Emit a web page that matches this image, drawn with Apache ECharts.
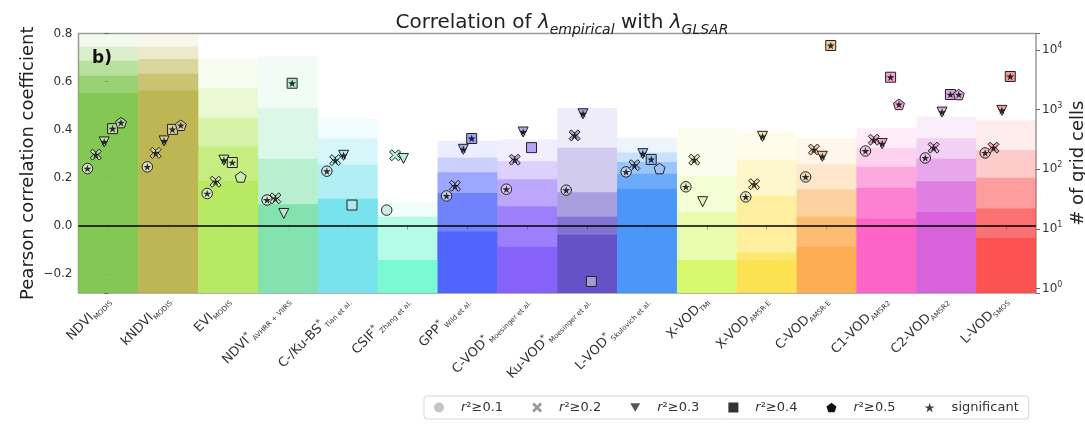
<!DOCTYPE html>
<html>
<head>
<meta charset="utf-8">
<script src="https://cdn.jsdelivr.net/npm/echarts@6/dist/echarts.min.js"></script>
<style>
  html, body { margin: 0; padding: 0; background: #fff; }
  #chart { width: 1085px; height: 426px; }
</style>
</head>
<body>
<div id="chart"></div>
<script>
// Vegetation / VOD products compared
const productNames   = ['NDVI', 'kNDVI', 'EVI', 'NDVI', 'C-/Ku-BS', 'CSIF', 'GPP', 'C-VOD', 'Ku-VOD', 'L-VOD',
                        'X-VOD', 'X-VOD', 'C-VOD', 'C1-VOD', 'C2-VOD', 'L-VOD'];
const productMarks   = ['', '', '', '*', '*', '*', '*', '*', '*', '*', '', '', '', '', '', ''];
const productSources = ['MODIS', 'MODIS', 'MODIS', 'AVHRR + VIIRS', 'Tian et al.', 'Zhang et al.', 'Wild et al.',
                        'Moesinger et al.', 'Moesinger et al.', 'Skulovich et al.', 'TMI', 'AMSR-E', 'AMSR-E',
                        'AMSR2', 'AMSR2', 'SMOS'];
const categories = productNames.map((n, i) => n + productMarks[i] + ' ' + productSources[i]);

const thresholdLabels = ['r²≥0.1', 'r²≥0.2', 'r²≥0.3', 'r²≥0.4', 'r²≥0.5'];

// Pearson r of lambda_empirical vs lambda_GLSAR, one array per r² threshold (null = no cells)
const corr01 = [0.238, 0.245, 0.134, 0.107, 0.227, 0.065, 0.124, 0.152, 0.148, 0.224, 0.162, 0.120, 0.203, 0.311, 0.282, 0.303];
const corr02 = [0.296, 0.303, 0.183, 0.114, 0.273, 0.293, 0.166, 0.275, 0.376, 0.252, 0.275, 0.173, 0.317, 0.358, 0.325, 0.325];
const corr03 = [0.349, 0.353, 0.273, 0.051, 0.293, 0.280, 0.318, 0.390, 0.466, 0.300, 0.100, 0.372, 0.289, 0.342, 0.473, 0.480];
const corr04 = [0.404, 0.401, 0.263, 0.593, 0.086, null, 0.363, 0.325, -0.232, 0.276, null, null, 0.750, 0.618, 0.546, 0.621];
const corr05 = [0.429, 0.418, 0.203, null, null, null, null, null, null, 0.238, null, null, null, 0.505, 0.546, null];

// significance flags (1 = significant)
const sig01 = [1, 1, 1, 1, 1, 0, 1, 1, 1, 1, 1, 1, 1, 1, 1, 1];
const sig02 = [1, 1, 1, 1, 1, 0, 1, 1, 1, 1, 1, 1, 1, 1, 1, 1];
const sig03 = [1, 1, 1, 0, 1, 0, 1, 1, 1, 1, 0, 1, 1, 1, 1, 1];
const sig04 = [1, 1, 1, 1, 0, 0, 1, 0, 0, 1, 0, 0, 1, 1, 1, 1];
const sig05 = [1, 1, 0, 0, 0, 0, 0, 0, 0, 0, 0, 0, 0, 1, 1, 0];

// number of grid cells passing each r² threshold
const cells01 = [25000, 25000, 7300, 7800, 710, 28, 300, 316, 1070, 337, 495, 436, 337, 495, 767, 660];
const cells02 = [11500, 11500, 2300, 1060, 330, 16, 158, 137, 230, 191, 77, 146, 121, 230, 331, 210];
const cells03 = [6600, 7070, 730, 150, 120, 16, 89, 68, 41, 133, 19, 36, 46, 110, 150, 72];
const cells04 = [3720, 4000, 240, 26, 32, 3, 40, 24, 16, 84, 3, 4, 16, 49, 63, 22];
const cells05 = [1910, 2100, 63, 26, 32, 3, 9, 5, 8, 47, 3, 3, 5, 15, 19, 7];

// ---- styling ----
const productColors = ['#7cc44a', '#b9b248', '#b4e85a', '#7ce0a8', '#70e0ec', '#72f8d0', '#445cfc', '#8058fa',
                       '#5c48c4', '#4090f8', '#d4f864', '#fce048', '#fca848', '#fc5cc4', '#d458d8', '#fc4848'];
const bandAlpha = [0.1, 0.2, 0.35, 0.5, 0.75];
const slotOffsets = [-0.35, -0.21, -0.07, 0.07, 0.21];
const legendGreys = ['#c4c4c4', '#9a9a9a', '#555555', '#333333', '#111111'];
const markerTint = [0.25, 0.45, 0.45, 0.5, 0.45];

const FONT = 'DejaVu Sans';
const xPath = 'path://M2,0L5,3L8,0L10,2L7,5L10,8L8,10L5,7L2,10L0,8L3,5L0,2Z';
const triDownPath = 'path://M0,0L10,0L5,8.66Z';
const pentPath = 'path://M9.51,0L19.02,6.91L15.39,18.09L3.63,18.09L0,6.91Z';
const starPath = 'path://M9.51,0L11.76,6.91L19.02,6.91L13.14,11.18L15.39,18.09L9.51,13.82L3.63,18.09L5.88,11.18L0,6.91L7.27,6.91Z';
const shapeSymbols = ['circle', xPath, 'triangle', 'rect', pentPath];
const shapeRotate = [0, 0, 180, 0, 0];
const shapeSizes = [10.5, 11, 10, 10, 11];

function mix(hex, other, t) {
  const a = [1, 3, 5].map(p => parseInt(hex.substr(p, 2), 16));
  const b = [1, 3, 5].map(p => parseInt(other.substr(p, 2), 16));
  const c = a.map((v, j) => Math.round(v * t + b[j] * (1 - t)));
  return 'rgb(' + c.join(',') + ')';
}

const corrSets = [corr01, corr02, corr03, corr04, corr05];
const sigSets = [sig01, sig02, sig03, sig04, sig05];
const cellSets = [cells01, cells02, cells03, cells04, cells05];

const bandData = [];
cellSets.forEach((arr, k) => arr.forEach((n, i) => { if (n != null) bandData.push([i, n, k]); }));

const markerSeries = corrSets.map((arr, k) => ({
  type: 'scatter',
  name: thresholdLabels[k],
  xAxisIndex: 1, yAxisIndex: 0,
  symbol: shapeSymbols[k], symbolSize: shapeSizes[k], symbolRotate: shapeRotate[k], symbolKeepAspect: true,
  z: 5,
  itemStyle: { borderColor: '#222', borderWidth: 1, opacity: 1 },
  emphasis: { disabled: true },
  data: arr.map((v, i) => v == null ? null : {
    value: [i + slotOffsets[k], v],
    itemStyle: { color: mix(productColors[i], '#ebebeb', markerTint[k]) }
  }).filter(d => d)
}));

const starData = [];
corrSets.forEach((arr, k) => arr.forEach((v, i) => {
  if (v != null && sigSets[k][i]) starData.push([i + slotOffsets[k], v]);
}));

markerSeries[0].markLine = {
  silent: true, symbol: 'none', label: { show: false }, animation: false,
  lineStyle: { color: '#000', width: 1.5, type: 'solid' },
  data: [{ yAxis: 0 }]
};

const legendRich = {
  i: { fontStyle: 'italic', fontSize: 13, color: '#333', fontFamily: FONT, padding: [0, 0, 0, 12] },
  t: { fontSize: 13, color: '#333', fontFamily: FONT },
  g: { fontSize: 13, color: '#333', fontFamily: FONT, padding: [0, 0, 0, 12] }
};

const chart = echarts.init(document.getElementById('chart'));
chart.setOption({
  animation: false,
  textStyle: { fontFamily: FONT },
  title: [{
    text: '{a|Correlation of }{l|λ}{s|empirical}{a| with }{l|λ}{s|GLSAR}',
    left: 557, top: 4, textAlign: 'center',
    textStyle: {
      fontWeight: 'normal',
      rich: {
        a: { fontSize: 20, color: '#222', fontFamily: FONT, fontWeight: 'normal', lineHeight: 28 },
        l: { fontSize: 20, color: '#222', fontFamily: FONT, fontWeight: 'normal', fontStyle: 'italic', lineHeight: 28 },
        s: { fontSize: 14, color: '#222', fontFamily: FONT, fontWeight: 'normal', fontStyle: 'italic',
             verticalAlign: 'bottom', lineHeight: 28, padding: [9, 0, 0, 0] }
      }
    }
  }, {
    text: 'b)', left: 87, top: 45,
    textStyle: { fontSize: 17, fontWeight: 'bold', color: '#111', fontFamily: FONT }
  }],
  grid: {
    left: 78.5, right: 49, top: 33.5, bottom: 133,
    show: true, borderColor: '#9a9a9a', borderWidth: 1.5, backgroundColor: 'transparent',
    outerBoundsMode: 'none'
  },
  legend: {
    left: 424, top: 396,
    padding: [5, 10], itemGap: 29, itemWidth: 10, itemHeight: 10,
    borderColor: '#d8d8d8', borderWidth: 1, borderRadius: 3,
    selectedMode: false,
    textStyle: { fontSize: 13, color: '#333', fontFamily: FONT, rich: legendRich },
    formatter: name => name.charAt(0) === 'r' ? '{i|r}{t|' + name.slice(1) + '}' : '{g|' + name + '}',
    data: thresholdLabels.map((n, k) => ({
      name: n, icon: [ 'circle', xPath, triDownPath, 'rect', pentPath ][k],
      itemStyle: { color: legendGreys[k], borderWidth: 0 }
    })).concat([{ name: 'significant', icon: starPath, itemStyle: { color: '#111', borderWidth: 0 } }])
  },
  xAxis: [{
    type: 'category', data: categories, boundaryGap: true, position: 'bottom',
    axisLine: { show: false },
    axisTick: { show: true, alignWithLabel: true, length: 4, lineStyle: { color: '#666' } },
    axisLabel: {
      rotate: 45, margin: 6, interval: 0, color: '#333',
      formatter: (val, idx) => '{m|' + productNames[idx] + '}' + (productMarks[idx] ? '{p|*}' : '') + '{s|' + productSources[idx] + '}',
      rich: {
        m: { fontSize: 13, color: '#333', fontFamily: FONT, lineHeight: 16 },
        p: { fontSize: 9, color: '#333', fontFamily: FONT, verticalAlign: 'top', lineHeight: 16 },
        s: { fontSize: 7, color: '#333', fontFamily: FONT, verticalAlign: 'bottom', lineHeight: 16 }
      }
    },
    splitLine: { show: false }
  }, {
    type: 'value', min: -0.5, max: 15.5, show: false
  }],
  yAxis: [{
    type: 'value', min: -0.28, max: 0.8, position: 'left',
    name: 'Pearson correlation coefficient', nameLocation: 'middle', nameGap: 41, nameRotate: 90,
    nameMoveOverlap: false,
    nameTextStyle: { fontSize: 18, color: '#222', fontFamily: FONT },
    axisLine: { show: false },
    axisTick: { show: true, length: 4, lineStyle: { color: '#666' } },
    axisLabel: {
      fontSize: 12, color: '#333', margin: 6,
      formatter: v => {
        const q = v / 0.2;
        if (Math.abs(q - Math.round(q)) > 1e-6) return '';
        const s = Math.abs(v).toFixed(1);
        return v < -1e-9 ? '\u2212' + s : s;
      }
    },
    splitLine: { show: false }
  }, {
    type: 'log', logBase: 10, min: 0.84, max: 18970, position: 'right',
    name: '# of grid cells', nameLocation: 'middle', nameGap: 33, nameRotate: 90,
    nameMoveOverlap: false,
    nameTextStyle: { fontSize: 18, color: '#222', fontFamily: FONT },
    axisLine: { show: false },
    axisTick: { show: true, length: 4, lineStyle: { color: '#666' } },
    axisLabel: {
      color: '#333', margin: 6,
      formatter: v => {
        const e = Math.log10(v);
        const r = Math.round(e);
        if (Math.abs(e - r) > 1e-6) return '';
        return '{b|10}{e|' + r + '}';
      },
      rich: {
        b: { fontSize: 12, color: '#333', fontFamily: FONT, lineHeight: 16 },
        e: { fontSize: 8, color: '#333', fontFamily: FONT, verticalAlign: 'top', lineHeight: 16 }
      }
    },
    splitLine: { show: false }
  }],
  series: [{
    type: 'custom',
    name: 'grid cells',
    xAxisIndex: 1, yAxisIndex: 1,
    z: 1, silent: true,
    encode: { x: 0, y: 1 },
    data: bandData,
    renderItem: (params, api) => {
      const i = api.value(0), n = api.value(1), k = api.value(2);
      const p0 = api.coord([i - 0.5, n]);
      const p1 = api.coord([i + 0.5, n]);
      const cs = params.coordSys;
      const top = Math.max(p0[1], cs.y);
      const bottom = cs.y + cs.height;
      return {
        type: 'rect',
        shape: { x: p0[0], y: top, width: p1[0] - p0[0], height: bottom - top },
        style: { fill: productColors[i], opacity: bandAlpha[k] }
      };
    }
  }].concat(markerSeries, [{
    type: 'scatter', name: 'significant',
    xAxisIndex: 1, yAxisIndex: 0,
    symbol: starPath, symbolSize: 8, symbolKeepAspect: true,
    z: 6, itemStyle: { color: '#000' }, emphasis: { disabled: true },
    data: starData
  }])
});
</script>
</body>
</html>
